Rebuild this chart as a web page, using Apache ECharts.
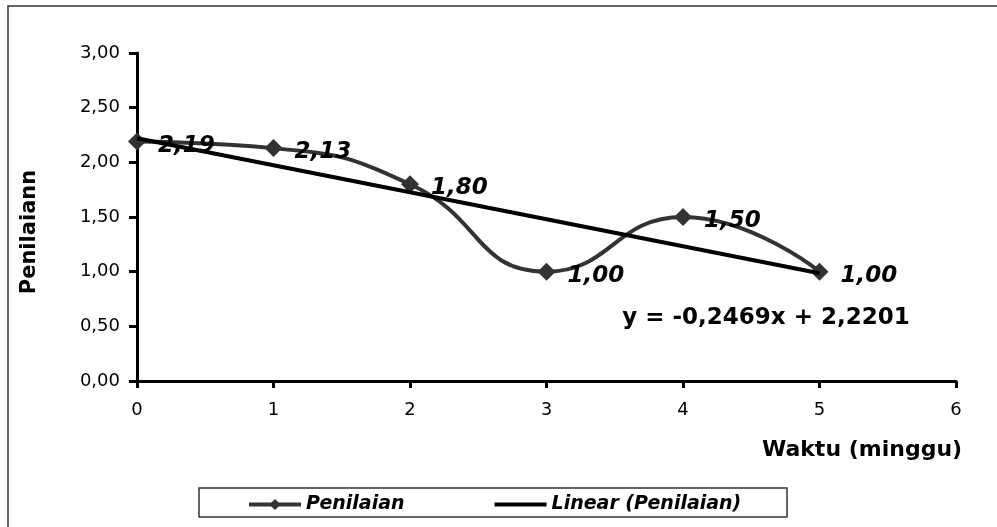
<!DOCTYPE html>
<html>
<head>
<meta charset="utf-8">
<script src="https://cdn.jsdelivr.net/npm/echarts@6/dist/echarts.min.js"></script>
<style>
html,body{margin:0;padding:0;background:#fff;}
#chart{width:997px;height:527px;}
</style>
</head>
<body>
<div id="chart"></div>
<script>
// ---- data ----
var weeks = [0, 1, 2, 3, 4, 5];
var penilaian = [2.19, 2.13, 1.80, 1.00, 1.50, 1.00];
var trendSlope = -0.2469;
var trendIntercept = 2.2201;
var yTicks = [0, 0.5, 1, 1.5, 2, 2.5, 3];
var xTicks = [0, 1, 2, 3, 4, 5, 6];
var seriesName = 'Penilaian';
var trendName = 'Linear (Penilaian)';
var xTitle = 'Waktu (minggu)';
var yTitle = 'Penilaiann';
var equationText = 'y = -0,2469x + 2,2201';

function fmt(v){ return v.toFixed(2).replace('.', ','); }

var mainData = weeks.map(function(w, i){ return [w, penilaian[i]]; });
var trendData = [weeks[0], weeks[weeks.length-1]].map(function(w){ return [w, trendIntercept + trendSlope * w]; });

var chart = echarts.init(document.getElementById('chart'));
var sansFont = 'DejaVu Sans';
chart.setOption({
  animation: false,
  backgroundColor: '#fff',
  grid: { left: 137, right: 41, top: 53, bottom: 146 },
  xAxis: {
    type: 'value', min: xTicks[0], max: xTicks[xTicks.length-1], interval: 1,
    splitLine: { show: false },
    axisLine: { show: true, lineStyle: { color: '#000', width: 3 } },
    axisTick: { show: true, length: 7, lineStyle: { color: '#000', width: 3 } },
    axisLabel: { margin: 20, fontFamily: sansFont, fontSize: 18, color: '#000' }
  },
  yAxis: {
    type: 'value', min: yTicks[0], max: yTicks[yTicks.length-1], interval: 0.5,
    splitLine: { show: false },
    axisLine: { show: true, lineStyle: { color: '#000', width: 3 } },
    axisTick: { show: true, length: 8, lineStyle: { color: '#000', width: 3 } },
    axisLabel: { margin: 17, fontFamily: sansFont, fontSize: 18, color: '#000', formatter: fmt }
  },
  legend: {
    left: 247, top: 495, padding: 0, itemGap: 90,
    itemWidth: 52, itemHeight: 14,
    textStyle: { fontFamily: sansFont, fontSize: 19, fontWeight: 'bold', fontStyle: 'italic', color: '#000' },
    data: [
      { name: seriesName, lineStyle: { width: 4, color: '#333' }, itemStyle: { color: '#333' } },
      { name: trendName, icon: 'path://M0,0 L52,0 L52,4 L0,4 Z', itemStyle: { color: '#000' } }
    ]
  },
  series: [
    {
      name: seriesName, type: 'line', data: mainData, smooth: 0.5,
      symbol: 'diamond', symbolSize: 18,
      lineStyle: { color: '#333', width: 4 },
      itemStyle: { color: '#333' },
      label: {
        show: true, position: 'right', distance: 12, offset: [0, 4],
        fontFamily: sansFont, fontSize: 23, fontWeight: 'bold', fontStyle: 'italic', color: '#000',
        formatter: function(p){ return fmt(p.value[1]); }
      },
      z: 3
    },
    {
      name: trendName, type: 'line', data: trendData, smooth: false,
      symbol: 'none', showSymbol: false,
      lineStyle: { color: '#000', width: 4 },
      itemStyle: { color: '#000' },
      z: 4
    }
  ],
  graphic: [
    { type: 'rect', shape: { x: 8, y: 6, width: 1200, height: 800 }, style: { fill: 'none', stroke: '#333', lineWidth: 1.5 }, silent: true, z: -1 },
    { type: 'rect', shape: { x: 199, y: 488, width: 588, height: 29 }, style: { fill: 'none', stroke: '#333', lineWidth: 1.5 }, silent: true },
    { type: 'text', x: 766, y: 318, style: { text: equationText, font: 'bold 23px "DejaVu Sans"', fill: '#000', textAlign: 'center', textVerticalAlign: 'middle' } },
    { type: 'text', x: 862, y: 450, style: { text: xTitle, font: 'bold 22px "DejaVu Sans"', fill: '#000', textAlign: 'center', textVerticalAlign: 'middle' } },
    { type: 'text', x: 30, y: 232, rotation: Math.PI/2, style: { text: yTitle, font: 'bold 21px "DejaVu Sans"', fill: '#000', textAlign: 'center', textVerticalAlign: 'middle' } }
  ]
});
</script>
</body>
</html>
